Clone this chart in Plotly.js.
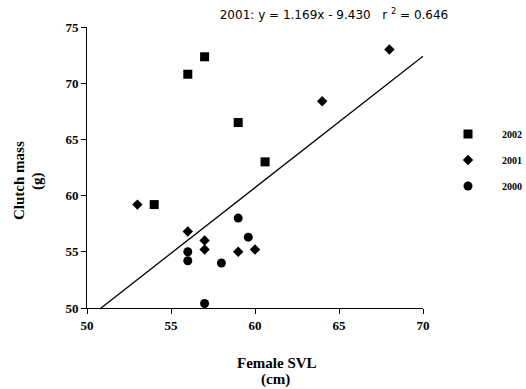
<!DOCTYPE html>
<html><head><meta charset="utf-8">
<script src="https://cdn.plot.ly/plotly-3.0.1.min.js"></script>
<style>html,body{margin:0;padding:0;background:#fff;}#chart{width:526px;height:389px;}</style>
</head><body><div id="chart"></div>
<script>
// Data
const svl2002 = [57.0, 56.0, 59.0, 60.6, 54.0];
const mass2002 = [72.35, 70.8, 66.5, 63.0, 59.2];
const svl2001 = [68.0, 64.0, 53.0, 56.0, 57.0, 57.0, 59.0, 60.0];
const mass2001 = [73.0, 68.4, 59.2, 56.8, 56.0, 55.2, 55.0, 55.2];
const svl2000 = [59.0, 59.6, 56.0, 56.0, 58.0, 57.0];
const mass2000 = [58.0, 56.3, 55.0, 54.2, 54.0, 50.4];
const fitX = [50.8, 70];           // regression line range
const slope = 1.169, intercept = -9.430;
const fitY = fitX.map(x => slope * x + intercept);
const yearLabels = ['2002', '2001', '2000'];
const xTicks = [50, 55, 60, 65, 70];
const yTicks = [50, 55, 60, 65, 70, 75];

const serif = 'Liberation Serif, Times New Roman, serif';
const traces = [
  {x: svl2002, y: mass2002, mode: 'markers', type: 'scatter', name: yearLabels[0], legendgroup: 'a',
   marker: {symbol: 'square', size: 9, color: '#000'}},
  {x: svl2001, y: mass2001, mode: 'markers', type: 'scatter', name: yearLabels[1], legendgroup: 'b',
   marker: {symbol: 'diamond', size: 8, color: '#000'}},
  {x: svl2000, y: mass2000, mode: 'markers', type: 'scatter', name: yearLabels[2], legendgroup: 'c',
   marker: {symbol: 'circle', size: 9, color: '#000'}},
  {x: fitX, y: fitY, mode: 'lines', type: 'scatter', showlegend: false,
   line: {color: '#000', width: 1.3}}
];
const layout = {
  width: 526, height: 389,
  margin: {l: 87, r: 103, t: 27, b: 81, autoexpand: false},
  paper_bgcolor: '#fff', plot_bgcolor: '#fff',
  showlegend: true,
  legend: {x: (434-87)/336, y: 0.671, xanchor: 'left', yanchor: 'top', tracegroupgap: 7, itemwidth: 58,
           font: {family: serif, size: 10, color: '#000', weight: 'bold'}, bgcolor: 'rgba(0,0,0,0)'},
  title: {text: '2001: y = 1.169x - 9.430   r <sup>2</sup> = 0.646', x: 334/526, xanchor: 'center',
          y: 1 - 15/389, yanchor: 'middle', font: {family: 'DejaVu Sans, Verdana, sans-serif', size: 12, color: '#000'}},
  xaxis: {range: [50, 70], tickvals: xTicks, ticktext: xTicks.map(String), showgrid: false, zeroline: false,
          showline: true, linecolor: '#000', linewidth: 1, ticks: 'outside', ticklen: 5, tickcolor: '#000',
          tickfont: {family: serif, size: 13, color: '#000', weight: 'bold'}},
  yaxis: {range: [50, 75], tickvals: yTicks, ticktext: yTicks.map(String), showgrid: false, zeroline: false,
          showline: true, linecolor: '#000', linewidth: 1, ticks: 'outside', ticklen: 5, tickcolor: '#000',
          tickfont: {family: serif, size: 13, color: '#000', weight: 'bold'}},
  annotations: [
    {text: 'Female SVL', xref: 'paper', yref: 'paper', x: (277-87)/336, y: (308-363)/281,
     xanchor: 'center', yanchor: 'middle', showarrow: false,
     font: {family: serif, size: 15, color: '#000', weight: 'bold'}},
    {text: '(cm)', xref: 'paper', yref: 'paper', x: (275-87)/336, y: (308-379)/281,
     xanchor: 'center', yanchor: 'middle', showarrow: false,
     font: {family: serif, size: 15, color: '#000', weight: 'bold'}},
    {text: 'Clutch mass', xref: 'paper', yref: 'paper', x: (19-87)/336, y: (308-181)/281, textangle: -90,
     xanchor: 'center', yanchor: 'middle', showarrow: false,
     font: {family: serif, size: 15, color: '#000', weight: 'bold'}},
    {text: '(g)', xref: 'paper', yref: 'paper', x: (37-87)/336, y: (308-181)/281, textangle: -90,
     xanchor: 'center', yanchor: 'middle', showarrow: false,
     font: {family: serif, size: 15, color: '#000', weight: 'bold'}}
  ]
};
Plotly.newPlot('chart', traces, layout, {displayModeBar: false, staticPlot: true});
</script></body></html>
